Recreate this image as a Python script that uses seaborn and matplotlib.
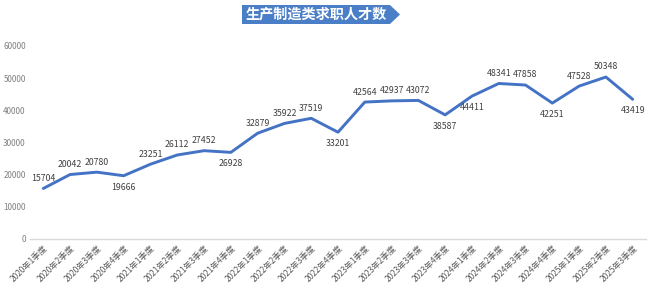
import matplotlib
matplotlib.use("Agg")
import matplotlib.pyplot as plt
import seaborn as sns
import pandas as pd
from matplotlib.patches import Polygon

quarters = ["2020年1季度", "2020年2季度", "2020年3季度", "2020年4季度",
            "2021年1季度", "2021年2季度", "2021年3季度", "2021年4季度",
            "2022年1季度", "2022年2季度", "2022年3季度", "2022年4季度",
            "2023年1季度", "2023年2季度", "2023年3季度", "2023年4季度",
            "2024年1季度", "2024年2季度", "2024年3季度", "2024年4季度",
            "2025年1季度", "2025年2季度", "2025年3季度"]
values = [15704, 20042, 20780, 19666, 23251, 26112, 27452, 26928,
          32879, 35922, 37519, 33201, 42564, 42937, 43072, 38587,
          44411, 48341, 47858, 42251, 47528, 50348, 43419]
label_below = [False, False, False, True, False, False, False, True,
               False, False, False, True, False, False, False, True,
               True, False, False, True, False, False, True]
yticks = [0, 10000, 20000, 30000, 40000, 50000, 60000]
title = "生产制造类求职人才数"

sns.set_style("white")
plt.rcParams['font.family'] = ['Noto Sans CJK SC', 'DejaVu Sans']

df = pd.DataFrame({"quarter": quarters, "value": values})

fig = plt.figure(figsize=(6.5, 2.91), dpi=100)
ax = fig.add_axes([0.046, 0.1787, 0.948, 0.6633])
sns.lineplot(data=df, x="quarter", y="value", sort=False, ax=ax,
             color="#4472C4", linewidth=2.1)

ax.set_xlim(-0.5, len(quarters) - 0.5)
ax.set_ylim(0, 60000)
ax.set_yticks(yticks)
ax.set_yticklabels([str(v) for v in yticks], fontsize=5.8, color="#7f7f7f")
ax.set_xticks(range(len(quarters)))
ax.set_xticklabels(quarters, rotation=45, ha="right", rotation_mode="anchor",
                   fontsize=6, color="#595959")
ax.tick_params(axis="x", length=0, pad=3)
ax.tick_params(axis="y", length=0, pad=3)
ax.set_xlabel("")
ax.set_ylabel("")
for s in ["top", "right", "left"]:
    ax.spines[s].set_visible(False)
ax.spines["bottom"].set_color("#d9d9d9")
ax.spines["bottom"].set_linewidth(1.0)

for i, (v, below) in enumerate(zip(values, label_below)):
    if below:
        ax.annotate(str(v), (i, v), xytext=(0, -5), textcoords="offset points",
                    ha="center", va="top", fontsize=6.3, color="#404040")
    else:
        ax.annotate(str(v), (i, v), xytext=(0, 4), textcoords="offset points",
                    ha="center", va="bottom", fontsize=6.3, color="#404040")

# Title banner
x0, x1, xt = 242 / 650, 390 / 650, 400 / 650
y0, y1 = 1 - 24 / 291, 1 - 5 / 291
banner = Polygon([(x0, y0), (x1, y0), (xt, (y0 + y1) / 2), (x1, y1), (x0, y1)],
                 closed=True, transform=fig.transFigure, facecolor="#4A7EC7",
                 edgecolor="none")
fig.patches.append(banner)
fig.text((244 + 389) / 2 / 650, (y0 + y1) / 2, title, ha="center", va="center",
         fontsize=10.2, fontweight="bold", color="white")

fig.savefig("out.png", dpi=100)
